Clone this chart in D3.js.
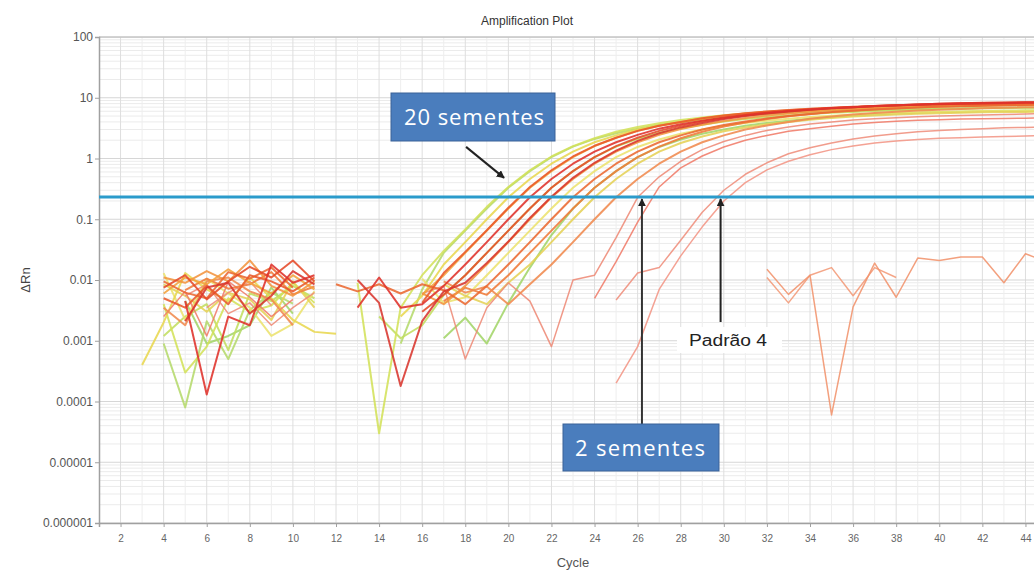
<!DOCTYPE html>
<html><head><meta charset="utf-8">
<script src="https://cdn.jsdelivr.net/npm/d3@7"></script>
<style>html,body{margin:0;padding:0;background:#fff;} svg{display:block;}</style>
</head><body><svg id="chart" width="1034" height="572"></svg>
<script>
// ---------------- DATA ----------------
const cycles = [3,4,5,6,7,8,9,10,11,12,13,14,15,16,17,18,19,20,21,22,23,24,25,26,27,28,29,30,31,32,33,34,35,36,37,38,39,40,41,42,43,44,45];
const yTickValues = [1e-6,1e-5,1e-4,1e-3,1e-2,1e-1,1,10,100];
const yTickLabels = ["0.000001","0.00001","0.0001","0.001","0.01","0.1","1","10","100"];
const xTickValues = [2,4,6,8,10,12,14,16,18,20,22,24,26,28,30,32,34,36,38,40,42,44];
const threshold = 0.232;

// each well: cycles 3..45 (null = not shown on log scale)
const well01 = [null,0.0009,0.00008,0.0021,0.0005,0.0032,0.0062,0.0041,null, null,null,null, 0.0009,0.007,0.028,0.065,0.15,0.33,0.62,1.05,1.57,2.1,2.6,3.1,3.6,4.0,4.4,4.8,5.1,5.4,5.6,5.8,6.0,6.2,6.3,6.4,6.5,6.6,6.7,6.8,6.85,6.9,6.95];
const well02 = [null,0.004,0.0003,0.0008,0.005,0.003,0.0038,0.009,0.0042, null,0.009,0.00003, 0.0035,0.012,0.03,0.068,0.16,0.34,0.64,1.08,1.6,2.15,2.75,3.3,3.8,4.3,4.75,5.15,5.5,5.8,6.1,6.35,6.55,6.75,6.95,7.1,7.2,7.3,7.4,7.5,7.6,7.65,7.7];
const well03 = [0.0004,0.002,0.013,0.007,0.0045,0.011,0.005,0.0022,0.0014, 0.0013,null,null, 0.0025,0.0055,0.018,0.042,0.10,0.23,0.46,0.82,1.3,1.85,2.4,3.0,3.5,4.0,4.5,4.9,5.3,5.6,5.9,6.2,6.4,6.6,6.8,7.0,7.1,7.2,7.3,7.4,7.5,7.6,7.6];
const well04 = [null,0.006,0.011,0.0085,0.015,0.009,0.006,0.012,0.007, null,null,null, null,0.0057,0.012,0.028,0.065,0.15,0.33,0.62,1.05,1.6,2.2,2.85,3.45,4.0,4.55,5.05,5.5,5.9,6.25,6.55,6.8,7.0,7.2,7.4,7.55,7.7,7.8,7.9,8.0,8.1,8.15];
const well05 = [null,0.005,0.0035,0.008,0.004,0.012,0.0095,0.0065,0.011, null,null,null, null,0.0042,0.013,0.029,0.066,0.155,0.34,0.64,1.08,1.62,2.2,2.85,3.45,4.0,4.6,5.1,5.55,5.95,6.3,6.6,6.85,7.1,7.3,7.5,7.65,7.8,7.9,8.0,8.1,8.2,8.25];
const well06 = [null,null,0.0045,0.00013,0.0025,0.0018,0.018,0.009,0.012, null,0.0035,0.011, 0.0035,0.004,0.008,0.018,0.042,0.10,0.23,0.46,0.82,1.3,1.85,2.45,3.1,3.65,4.2,4.75,5.2,5.65,6.05,6.4,6.75,7.0,7.25,7.45,7.65,7.8,7.95,8.05,8.15,8.25,8.3];
const well07 = [null,0.0012,0.0025,0.004,0.0007,0.006,0.0045,0.008,0.005, null,null,0.0025, 0.0011,0.0018,0.0057,0.012,0.028,0.065,0.15,0.33,0.62,1.05,1.57,2.1,2.65,3.15,3.6,4.05,4.45,4.8,5.1,5.4,5.65,5.85,6.05,6.2,6.35,6.5,6.6,6.7,6.8,6.85,6.9];
const well08 = [null,0.011,0.009,0.014,0.0095,0.021,0.008,0.0055,0.0095, null,null,null, null,0.006,0.004,0.008,0.018,0.042,0.10,0.23,0.46,0.82,1.3,1.85,2.45,3.05,3.6,4.15,4.65,5.1,5.5,5.9,6.25,6.55,6.8,7.05,7.25,7.45,7.6,7.75,7.85,7.95,8.05];
const well09 = [null,null,0.0021,0.0075,0.009,0.0028,0.0055,0.014,0.0085, null,0.01,0.0042, 0.00018,0.0021,0.0065,0.009,0.019,0.043,0.105,0.235,0.48,0.85,1.35,1.95,2.6,3.25,3.85,4.45,5.0,5.5,5.95,6.35,6.7,7.0,7.3,7.55,7.75,7.95,8.1,8.2,8.3,8.4,8.45];
const well10 = [null,0.013,0.0022,0.0105,0.006,0.0035,0.0012,0.0019,0.0065, null,null,null, null,0.0105,0.0042,0.0052,0.012,0.028,0.065,0.15,0.33,0.62,1.05,1.55,2.05,2.55,3.0,3.45,3.85,4.2,4.5,4.8,5.05,5.25,5.45,5.6,5.75,5.85,5.95,6.05,6.1,6.15,6.2];
const well11 = [null,0.0095,0.0062,0.005,0.0135,0.0105,0.016,0.0075,null, 0.0085,0.0065,0.0085, 0.006,0.0085,0.0068,0.004,0.008,0.018,0.042,0.10,0.23,0.46,0.82,1.3,1.85,2.4,3.0,3.55,4.05,4.55,5.0,5.4,5.8,6.1,6.4,6.65,6.9,7.1,7.25,7.4,7.5,7.6,7.7];
const well12 = [null,null,0.0045,0.0009,0.0012,0.0018,0.0075,0.0028,null, null,null,null, null,null,0.0011,0.0024,0.0009,0.0042,0.016,0.055,0.15,0.33,0.62,1.05,1.55,2.05,2.55,3.0,3.45,3.85,4.2,4.5,4.8,5.05,5.3,5.5,5.65,5.8,5.9,6.0,6.1,6.15,6.2];
const well13 = [null,0.0085,0.0055,0.003,0.0062,0.0048,0.0022,0.0095,0.0035, null,null,null, null,null,0.0085,0.0055,0.004,0.009,0.018,0.042,0.10,0.23,0.46,0.82,1.3,1.8,2.3,2.8,3.25,3.65,4.0,4.35,4.65,4.9,5.1,5.3,5.45,5.55,5.65,5.75,5.8,5.85,5.9];
const well14 = [null,0.0035,0.0018,0.0095,0.011,0.0065,0.0048,0.0018,null, null,null,null, null,null,0.0095,0.0062,0.0078,0.004,0.0085,0.018,0.042,0.10,0.23,0.46,0.82,1.3,1.85,2.4,3.0,3.5,4.0,4.5,4.9,5.3,5.6,5.9,6.15,6.35,6.55,6.7,6.85,6.95,7.05];
const well15 = [null,0.0075,0.012,0.0048,0.0095,0.0165,0.011,0.021,0.0095, null,null,null, null,0.003,0.0057,0.012,0.028,0.065,0.15,0.33,0.62,1.05,1.6,2.2,2.85,3.45,4.05,4.6,5.1,5.55,5.95,6.35,6.7,7.0,7.3,7.55,7.75,7.95,8.1,8.25,8.35,8.45,8.5];
const well16 = [null,null,0.0068,0.0105,0.0072,0.0085,0.0135,0.0058,0.0078, null,null,null, null,null,0.0045,0.0075,0.0057,0.012,0.028,0.065,0.15,0.33,0.62,1.05,1.57,2.15,2.75,3.35,3.9,4.45,4.95,5.4,5.8,6.15,6.45,6.7,6.95,7.15,7.3,7.45,7.55,7.65,7.7];
const well17 = [null,null,0.0055,0.0085,0.0028,0.0042,0.0018,0.0035,0.0062, null,null,null, null,0.006,0.008,0.0005,0.0035,0.009,0.0045,0.0008,0.01,0.012,0.05,0.23,0.5,0.9,1.4,1.9,2.4,2.9,3.3,3.7,4.0,4.3,4.5,4.7,4.85,5.0,5.1,5.2,5.3,5.4,5.5];
const well18 = [null,0.0025,0.0065,0.0012,0.0095,0.0052,0.0025,0.0048,null, null,null,null, null,null,null,null,null,null,null,null,null,0.005,0.02,0.09,0.34,0.7,1.1,1.55,2.0,2.4,2.8,3.1,3.4,3.7,3.9,4.1,4.25,4.35,4.45,4.5,4.55,4.6,4.65];
const well19 = [null,null,null,0.0035,0.0062,0.0095,0.0038,null,null, null,null,null, null,null,null,null,null,null,null,null,null,null,0.0047,0.013,0.016,0.045,0.13,0.3,0.55,0.85,1.2,1.5,1.8,2.1,2.35,2.55,2.75,2.9,3.0,3.1,3.2,3.25,3.3];
const well20 = [null,null,null,null,null,null,null,null,null, null,null,null, null,null,null,null,null,null,null,null,null,null,0.0002,0.0008,0.007,0.025,0.075,0.2,0.4,0.65,0.9,1.15,1.4,1.6,1.8,1.95,2.05,2.15,2.2,2.25,2.3,2.35,2.4];
const ntc1 = [null,null,null,null,null,null,null,null,null, null,null,null, null,null,null,null,null,null,null,null,null,null,null,null,null,null,null,null,null,0.015,0.0058,0.012,0.00006,0.0036,0.019,0.0052,0.023,0.021,0.024,0.024,0.009,0.027,0.02];
const ntc2 = [null,null,null,null,null,null,null,null,null, null,null,null, null,null,null,null,null,null,null,null,null,null,null,null,null,null,null,null,null,0.011,0.0042,0.012,0.016,0.0055,0.016,0.011,null,null,null,null,null,null,null];

// drawing order (back to front) and colours
const seriesOrder = [well12, well01, well07, well02, well10, well13, well03, well20, well19, well18, well17, ntc2, ntc1, well16, well14, well04, well08, well11, well05, well15, well09, well06];
const seriesColors = ["#a3d569","#b5da6c","#c2de60","#d3e15a","#ece26e","#e5d257","#e8d750","#f29585","#ef8e7c","#f07b69","#ee8a76","#f29a78","#f1936c","#ef7a39","#f08a4e","#f2a23c","#f3943f","#eb6931","#e9592b","#e54a29","#d8352d","#df312a"];
const seriesWidths = [2,2,2,2,2,2,2,1.5,1.5,1.5,1.5,1.5,1.5,2,2,2,2,2,2,2,2,2];

const titleText = "Amplification Plot";
const xLabel = "Cycle";
const yLabel = "ΔRn";
const annot20 = "20 sementes";
const annot2 = "2 sementes";
const annotP4 = "Padrão 4";
const ct20 = 19.8, ct2 = 26.2, ctP4 = 29.85;

// ---------------- CHART ----------------
const W = 1034, H = 572;
const svg = d3.select("#chart");
const pL = 99, pT = 37, pB = 523;
const x = d3.scaleLinear().domain([1,45]).range([pL, 1047]);
const y = d3.scaleLog().domain([1e-6,100]).range([pB, pT]);

const defs = svg.append("defs");
defs.append("clipPath").attr("id","clip").append("rect")
  .attr("x", pL).attr("y", pT).attr("width", W-pL).attr("height", pB-pT);
defs.append("marker").attr("id","arrow").attr("viewBox","0 0 10 10")
  .attr("refX",9).attr("refY",5).attr("markerWidth",4).attr("markerHeight",4)
  .attr("orient","auto-start-reverse").append("path").attr("d","M0,0L10,5L0,10z").attr("fill","#222");

// grid
const grid = svg.append("g").attr("clip-path","url(#clip)");
const minorY = [];
for (let k=-6;k<2;k++) for (let m=2;m<10;m++) minorY.push(m*Math.pow(10,k));
grid.selectAll(".hmin").data(minorY).enter().append("line")
  .attr("x1",pL).attr("x2",W).attr("y1",d=>y(d)).attr("y2",d=>y(d))
  .attr("stroke","#ebebeb").attr("stroke-width",1);
const cyc = d3.range(1,46);
grid.selectAll(".v").data(cyc).enter().append("line")
  .attr("x1",d=>x(d)).attr("x2",d=>x(d)).attr("y1",pT).attr("y2",pB)
  .attr("stroke",d=>d%2===0?"#dedede":"#eeeeee").attr("stroke-width",1);
grid.selectAll(".hmaj").data(yTickValues).enter().append("line")
  .attr("x1",pL).attr("x2",W).attr("y1",d=>y(d)).attr("y2",d=>y(d))
  .attr("stroke","#d6d6d6").attr("stroke-width",1.2);

// top border
svg.append("line").attr("x1",pL).attr("x2",W).attr("y1",pT).attr("y2",pT)
  .attr("stroke","#c4c4c4").attr("stroke-width",1.5);

// axes
const fontA = "'Liberation Sans', Arial, sans-serif";
const yAxis = svg.append("g").attr("transform",`translate(${pL},0)`)
  .call(d3.axisLeft(y).tickValues(yTickValues).tickFormat((d,i)=>yTickLabels[i]).tickSize(4).tickPadding(2));
yAxis.select(".domain").attr("stroke","#a0a0a0").attr("stroke-width",1.5);
yAxis.selectAll(".tick line").attr("stroke","#a0a0a0");
yAxis.selectAll("text").attr("fill","#555").style("font-family",fontA).style("font-size","12px");

const xAxis = svg.append("g").attr("transform",`translate(0,${pB})`)
  .call(d3.axisBottom(x).tickValues(xTickValues).tickSize(4).tickPadding(8));
xAxis.select(".domain").attr("stroke","#a0a0a0").attr("stroke-width",1.5);
xAxis.selectAll(".tick line").attr("stroke","#a0a0a0");
xAxis.selectAll("text").attr("fill","#666").style("font-family",fontA).style("font-size","10px");

// curves
const line = d3.line().defined(d=>d.v!=null).x(d=>x(d.c)).y(d=>y(d.v));
const plot = svg.append("g").attr("clip-path","url(#clip)");
seriesOrder.forEach((s,i)=>{
  const pts = cycles.map((c,j)=>({c:c, v:s[j]}));
  plot.append("path").datum(pts).attr("d",line)
    .attr("fill","none").attr("stroke",seriesColors[i])
    .attr("stroke-width",seriesWidths[i]).attr("stroke-opacity",0.88)
    .attr("stroke-linejoin","round");
});

// threshold
svg.append("line").attr("x1",pL).attr("x2",W).attr("y1",y(threshold)).attr("y2",y(threshold))
  .attr("stroke","#2b9bcb").attr("stroke-width",3);

// titles
svg.append("text").attr("x",527).attr("y",25).attr("text-anchor","middle")
  .style("font-family",fontA).style("font-size","12px").attr("fill","#333").text(titleText);
svg.append("text").attr("x",573).attr("y",567).attr("text-anchor","middle")
  .style("font-family",fontA).style("font-size","13px").attr("fill","#555").text(xLabel);
svg.append("text").attr("transform","translate(30,280) rotate(-90)").attr("text-anchor","middle")
  .style("font-family",fontA).style("font-size","13px").attr("fill","#444").text(yLabel);

// annotations
const ty = y(threshold);
svg.append("line").attr("x1",x(ct20)-38).attr("y1",y(0.48)-31).attr("x2",x(ct20)).attr("y2",y(0.48))
  .attr("stroke","#222").attr("stroke-width",2).attr("marker-end","url(#arrow)");
svg.append("rect").attr("x",391).attr("y",93).attr("width",164).attr("height",48)
  .attr("fill","#4a7dbd").attr("stroke","#3a6298").attr("stroke-width",1);
svg.append("text").attr("x",474).attr("y",125).attr("text-anchor","middle")
  .attr("textLength",140).attr("lengthAdjust","spacing")
  .style("font-family","'Open Sans', Lato, sans-serif").style("font-size","22px").attr("fill","#fff").text(annot20);

svg.append("line").attr("x1",x(ct2)).attr("y1",424).attr("x2",x(ct2)).attr("y2",ty+2)
  .attr("stroke","#333").attr("stroke-width",2).attr("marker-end","url(#arrow)");
svg.append("rect").attr("x",563).attr("y",424).attr("width",156).attr("height",47)
  .attr("fill","#4a7dbd").attr("stroke","#3a6298").attr("stroke-width",1);
svg.append("text").attr("x",640).attr("y",456).attr("text-anchor","middle")
  .attr("textLength",130).attr("lengthAdjust","spacing")
  .style("font-family","'Open Sans', Lato, sans-serif").style("font-size","22px").attr("fill","#fff").text(annot2);

svg.append("rect").attr("x",677).attr("y",327).attr("width",105).attr("height",26).attr("fill","#fff");
svg.append("line").attr("x1",x(ctP4)).attr("y1",322).attr("x2",x(ctP4)).attr("y2",ty+2)
  .attr("stroke","#222").attr("stroke-width",2).attr("marker-end","url(#arrow)");
svg.append("text").attr("x",728).attr("y",346).attr("text-anchor","middle")
  .attr("textLength",78).attr("lengthAdjust","spacingAndGlyphs")
  .style("font-family",fontA).style("font-size","16px").attr("fill","#222").text(annotP4);
</script>
</body></html>
